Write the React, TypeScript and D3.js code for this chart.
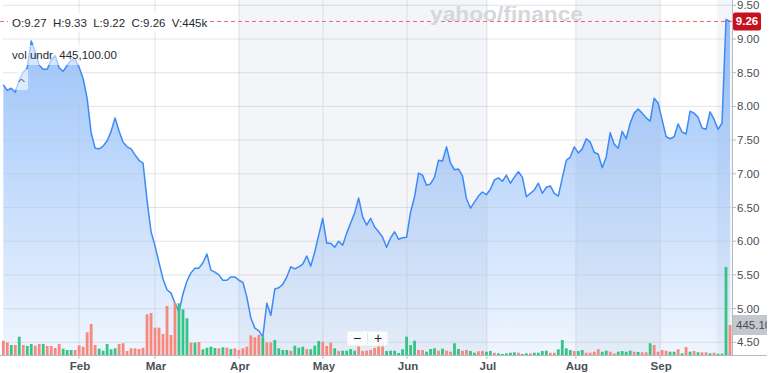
import React from 'react';
import * as d3 from 'd3';

// ---- data ----
const prices: number[] = [
  8.32, 8.24, 8.27, 8.21, 8.39, 8.51, 8.57, 8.97, 8.81, 8.61,
  8.55, 8.55, 8.69, 8.75, 8.57, 8.52, 8.61, 8.69, 8.69, 8.58,
  8.41, 8.12, 7.61, 7.38, 7.37, 7.41, 7.49, 7.63, 7.83, 7.63,
  7.47, 7.40, 7.37, 7.28, 7.20, 7.16, 6.61, 6.14, 5.93, 5.68,
  5.44, 5.28, 5.23, 5.08, 4.95, 5.22, 5.41, 5.53, 5.60, 5.60,
  5.68, 5.81, 5.57, 5.54, 5.50, 5.42, 5.42, 5.47, 5.47, 5.42,
  5.39, 5.17, 4.86, 4.71, 4.67, 4.58, 5.08, 4.90, 5.29, 5.31,
  5.36, 5.47, 5.62, 5.59, 5.62, 5.66, 5.78, 5.63, 5.84, 6.09,
  6.34, 5.97, 5.97, 5.91, 6.00, 5.94, 6.12, 6.27, 6.42, 6.64,
  6.36, 6.24, 6.34, 6.21, 6.14, 6.06, 5.91, 6.05, 6.14, 6.03,
  6.05, 6.06, 6.43, 6.66, 7.01, 6.98, 6.83, 6.85, 6.95, 7.20,
  7.19, 7.40, 7.16, 7.06, 7.07, 6.97, 6.63, 6.49, 6.58, 6.67,
  6.73, 6.69, 6.77, 6.91, 6.94, 6.89, 6.98, 6.86, 6.95, 7.03,
  6.95, 6.66, 6.71, 6.76, 6.86, 6.71, 6.80, 6.82, 6.71, 6.67,
  6.94, 7.20, 7.25, 7.40, 7.31, 7.37, 7.52, 7.47, 7.32, 7.29,
  7.09, 7.25, 7.61, 7.44, 7.38, 7.63, 7.52, 7.75, 7.90, 7.96,
  7.90, 7.83, 7.78, 8.12, 8.05, 7.80, 7.55, 7.52, 7.55, 7.74,
  7.62, 7.59, 7.93, 7.90, 7.84, 7.68, 7.66, 7.92, 7.81, 7.66,
  7.75, 9.29, 9.26,
];

// volume in thousands
const volumesK: number[] = [
  212, 188, 148, 148, 272, 148, 134, 163, 138, 163,
  163, 134, 134, 104, 163, 93, 74, 74, 74, 144,
  123, 337, 460, 148, 93, 64, 163, 85, 99, 163,
  174, 59, 99, 99, 89, 108, 604, 623, 405, 405,
  312, 727, 297, 776, 767, 678, 545, 183, 183, 193,
  85, 108, 123, 104, 99, 114, 108, 89, 99, 74,
  99, 123, 292, 263, 297, 263, 188, 188, 223, 99,
  74, 74, 64, 138, 108, 123, 89, 85, 138, 208,
  197, 134, 183, 99, 59, 64, 64, 89, 64, 138,
  59, 64, 74, 104, 197, 197, 59, 64, 64, 30,
  85, 272, 148, 212, 74, 74, 49, 89, 99, 64,
  93, 64, 49, 174, 89, 64, 74, 59, 34, 55,
  59, 49, 59, 34, 25, 15, 25, 34, 40, 34,
  15, 25, 25, 34, 34, 59, 64, 34, 34, 85,
  223, 99, 74, 59, 59, 74, 34, 34, 49, 85,
  49, 64, 49, 25, 49, 59, 49, 64, 49, 45,
  40, 40, 174, 148, 49, 74, 64, 49, 49, 85,
  25, 119, 49, 59, 40, 40, 40, 25, 34, 19,
  19, 1306, 445.1,
];

// R = down day (red), G = up day (green)
const volumeDirection: string[] = (
  'RRGRGRGGRR' + 'GRRRRGGGRR' + 'RRRRGGGGGR' + 'RRRRRRRRRR' + 'RRRRGGGRGR' +
  'GGGGRGRGRR' + 'RRRRRGRRGG' + 'GGRGGGRGGG' + 'RRRGRGGGGR' + 'RRRRRRGGGG' +
  'GGGGRRGGGR' + 'GRRGGRRGGR' + 'RGGRGGGGGR' + 'GGRGGGGRRG' + 'GGGRGGRRRR' +
  'GGRRGGGGRG' + 'RRGRRRRGGR' + 'GRGRGRRGRG' + 'GGR'
).split('');

const monthLabels = ['Feb', 'Mar', 'Apr', 'May', 'Jun', 'Jul', 'Aug', 'Sep'];
const monthIndex = [18.96, 37.99, 59.03, 80.06, 101.1, 121.1, 143.4, 164.5];
const priceTicks = [4.5, 5, 5.5, 6, 6.5, 7, 7.5, 8, 8.5, 9, 9.5];
const shadedRanges: [number, number][] = [[59.03, 121.1], [143.4, 164.5], [178.7, 183]];
const ohlcLabels = ['O:9.27', 'H:9.33', 'L:9.22', 'C:9.26', 'V:445k'];
const lastClose = 9.26;
const lastVolumeK = 445.1;
const volumeLegend = 'vol undr  445,100.00';

const FONT = "'Liberation Sans', Arial, Helvetica, sans-serif";

export default function App() {
  const W = 780;
  const H = 373;
  const plotR = 732;
  const plotB = 355;
  const panelR = 767;

  const x = d3.scaleLinear().domain([0, prices.length - 1]).range([3.3, 730]);
  const y = d3.scaleLinear().domain([4.5, 9.5]).range([342.3, 5.3]);
  const v = d3.scaleLinear().domain([0, 1500]).range([plotB, plotB - 101.1]);

  const linePath = d3.line<number>().x((_, i) => x(i)).y((d) => y(d))(prices) || '';
  const areaPath = d3.area<number>().x((_, i) => x(i)).y0(plotB).y1((d) => y(d))(prices) || '';

  const barW = 2.8;
  const red = '#f6887e';
  const green = '#36c386';

  return (
    <svg width={W} height={H} style={{ position: 'fixed', left: 0, top: 0, background: '#fff' }} fontFamily={FONT}>
      <defs>
        <linearGradient id="areaGrad" gradientUnits="userSpaceOnUse" x1="0" y1="0" x2="0" y2={plotB}>
          <stop offset="0" stopColor="#3b89f5" stopOpacity={0.55} />
          <stop offset="1" stopColor="#3b89f5" stopOpacity={0.08} />
        </linearGradient>
        <clipPath id="plotClip">
          <rect x={0} y={0} width={plotR} height={plotB} />
        </clipPath>
        <clipPath id="panelClip">
          <rect x={plotR} y={0} width={panelR - plotR} height={H} />
        </clipPath>
      </defs>

      {/* shaded bands */}
      {shadedRanges.map(([a, b], i) => (
        <rect key={'band' + i} x={x(a)} y={0} width={Math.min(x(b), plotR) - x(a)} height={plotB} fill="#f3f5f8" />
      ))}

      {/* area */}
      <g clipPath="url(#plotClip)">
        <path d={areaPath} fill="url(#areaGrad)" />
      </g>

      {/* grid */}
      {priceTicks.map((t) => (
        <line key={'hg' + t} x1={3} x2={plotR} y1={y(t)} y2={y(t)} stroke="#bcc3cc" strokeOpacity={0.45} strokeWidth={1} />
      ))}
      {monthIndex.map((m, i) => (
        <line key={'vg' + i} x1={x(m)} x2={x(m)} y1={0} y2={plotB} stroke="#bcc3cc" strokeOpacity={0.45} strokeWidth={1} />
      ))}

      <path d={linePath} fill="none" stroke="#3d8af7" strokeWidth={1.5} strokeLinejoin="round" />

      {/* volume bars */}
      {volumesK.map((vol, i) => (
        <rect
          key={'vb' + i}
          x={x(i) - barW / 2}
          y={v(vol)}
          width={barW}
          height={plotB - v(vol)}
          fill={volumeDirection[i] === 'G' ? green : red}
        />
      ))}

      {/* last price dashed line */}
      <line x1={0} x2={plotR} y1={y(lastClose)} y2={y(lastClose)} stroke="#e2554d" strokeWidth={1} strokeDasharray="4,3" strokeOpacity={0.85} />

      {/* OHLC header */}
      <rect x={8} y={13} width={197} height={19} fill="#fff" />
      <text x={12} y={27} fontSize={11.5} fill="#232a31" style={{ whiteSpace: 'pre' }}>
        {ohlcLabels.join('  ')}
      </text>

      {/* volume legend */}
      <rect x={8} y={45} width={114} height={20} fill="#fff" fillOpacity={0.55} />
      <text x={12} y={59} fontSize={11.5} fill="#232a31" style={{ whiteSpace: 'pre' }}>
        {volumeLegend}
      </text>

      {/* collapse button */}
      <rect x={15} y={69} width={13} height={21} rx={2} fill="#fff" fillOpacity={0.6} />
      <path d="M18.5,82 L21.5,79 L24.5,82" fill="none" stroke="#464e56" strokeWidth={1} />

      {/* watermark */}
      <text x={430} y={21} fontSize={21} fontWeight={700} fill="#d4d8dd" textLength={153} lengthAdjust="spacingAndGlyphs">
        yahoo/finance
      </text>

      {/* zoom buttons */}
      <rect x={347} y={331} width={41} height={15} rx={2} fill="#fff" fillOpacity={0.85} stroke="#e6e9ec" />
      <line x1={367.5} x2={367.5} y1={333} y2={344} stroke="#e0e3e7" />
      <text x={357} y={343} fontSize={14} textAnchor="middle" fill="#232a31">−</text>
      <text x={378} y={343} fontSize={14} textAnchor="middle" fill="#232a31">+</text>

      {/* axes */}
      <line x1={0} x2={panelR} y1={plotB + 0.5} y2={plotB + 0.5} stroke="#b5bac0" />
      <line x1={plotR + 0.5} x2={plotR + 0.5} y1={0} y2={plotB} stroke="#b5bac0" />
      {monthIndex.map((m, i) => (
        <g key={'mt' + i}>
          <line x1={x(m)} x2={x(m)} y1={plotB} y2={plotB + 4} stroke="#b5bac0" />
          <text x={x(m) + 1} y={370} fontSize={11.5} fontWeight={700} fill="#4a5259" textAnchor="middle">
            {monthLabels[i]}
          </text>
        </g>
      ))}
      {priceTicks.map((t) => (
        <g key={'yt' + t}>
          <line x1={plotR} x2={plotR + 4} y1={y(t)} y2={y(t)} stroke="#b5bac0" />
          <text x={737} y={y(t) + 4} fontSize={11.5} fill="#464e56">
            {t.toFixed(2)}
          </text>
        </g>
      ))}

      {/* last price tag */}
      <rect x={733} y={y(lastClose) - 9} width={28} height={18} rx={2} fill="#c8111e" />
      <text x={747} y={y(lastClose) + 4} fontSize={11.5} fontWeight={700} fill="#fff" textAnchor="middle">
        {lastClose.toFixed(2)}
      </text>

      {/* last volume tag (clipped to the axis panel) */}
      <g clipPath="url(#panelClip)">
        <rect x={733} y={v(lastVolumeK) - 10} width={panelR - 733} height={20} fill="#c4c7cb" />
        <text x={736} y={v(lastVolumeK) + 4} fontSize={11.5} fill="#464e56">
          {lastVolumeK.toFixed(2)}K
        </text>
      </g>
    </svg>
  );
}
